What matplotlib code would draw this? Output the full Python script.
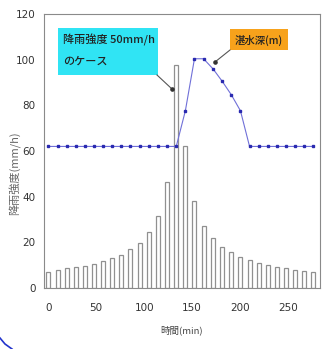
import numpy as np
import matplotlib
matplotlib.use("Agg")
import matplotlib.pyplot as plt
from matplotlib.patches import Rectangle
from matplotlib.lines import Line2D

plt.rcParams['font.family'] = ['Noto Sans CJK JP', 'DejaVu Sans']

# time positions of the bars / points (min)
time_min = [0, 9.6, 19, 28.5, 38, 47.5, 57, 66.5, 76, 85.5,
            95.5, 105, 114.5, 124, 133.5, 143, 152.5, 162, 172, 181.5,
            191, 200.5, 210, 219.5, 229, 238.5, 248, 257.5, 267, 276.5]

# rainfall intensity (mm/h)
rain = [7.1, 7.9, 8.6, 9.1, 9.6, 10.5, 11.8, 13.0, 14.5, 17.0,
        19.9, 24.4, 31.6, 46.6, 97.5, 62.0, 37.9, 27.2, 21.8, 18.1,
        15.6, 13.6, 12.3, 10.8, 9.9, 9.2, 8.6, 8.0, 7.6, 7.1]

# ponding depth (plotted on same scale)
depth = [62, 62, 62, 62, 62, 62, 62, 62, 62, 62,
         62, 62, 62, 62, 62, 77.6, 100.4, 100.4, 95.9, 90.5,
         84.6, 77.6, 62, 62, 62, 62, 62, 62, 62, 62]

x_ticks = [0, 50, 100, 150, 200, 250]
y_ticks = [0, 20, 40, 60, 80, 100, 120]

W, H = 326, 349
fig = plt.figure(figsize=(W / 100, H / 100), dpi=100)
ax = fig.add_axes([44 / W, 1 - 288 / H, 276 / W, 274 / H])

ax.bar(time_min, rain, width=4.2, color='white', edgecolor='#909090', linewidth=0.9, zorder=2)
ax.plot(time_min, depth, color='#7070d8', linewidth=0.8, marker='s', markersize=1.7,
        markerfacecolor='#2a2ab0', markeredgecolor='#2a2ab0', zorder=3)

ax.set_xlim(-4.5, 283.5)
ax.set_ylim(0, 120)
ax.set_xticks(x_ticks)
ax.set_yticks(y_ticks)
tick_font = ['Liberation Sans Narrow', 'DejaVu Sans']
ax.set_xticklabels([str(v) for v in x_ticks], family=tick_font, fontsize=7.5, color='#333333')
ax.set_yticklabels([str(v) for v in y_ticks], family=tick_font, fontsize=7.5, color='#333333')
ax.tick_params(axis='x', length=0, pad=11)
ax.tick_params(axis='y', length=0, pad=6)
for sp in ax.spines.values():
    sp.set_color('#8a8a8a')
    sp.set_linewidth(0.8)

fig.text(15 / W, 1 - 173 / H, '降雨強度(mm/h)', rotation=90, ha='center', va='center',
         fontsize=8, color='#666666')
fig.text(182 / W, 1 - 330 / H, '時間(min)', ha='center', va='center',
         fontsize=6.8, color='#444444')


def px(x, y):
    return x / W, 1 - y / H


# cyan callout
fig.add_artist(Rectangle(px(58, 75), 100 / W, 47 / H, transform=fig.transFigure,
                         facecolor='#30e4f4', edgecolor='none', zorder=5))
fig.text(*px(63, 40), '降雨強度 50mm/h', ha='left', va='center', fontsize=8,
         fontweight='medium', color='#222222', zorder=6)
fig.text(*px(63, 62), 'のケース', ha='left', va='center', fontsize=8,
         fontweight='medium', color='#222222', zorder=6)
fig.add_artist(Line2D([157 / W, 172 / W], [1 - 75 / H, 1 - 89 / H], transform=fig.transFigure,
                      color='#555555', linewidth=0.8, zorder=5))
fig.add_artist(Line2D([172 / W], [1 - 89 / H], transform=fig.transFigure, marker='o',
                      markersize=2.3, color='#333333', zorder=5))

# orange callout
fig.add_artist(Rectangle(px(230, 50), 58 / W, 21 / H, transform=fig.transFigure,
                         facecolor='#f7a21b', edgecolor='none', zorder=5))
fig.text(*px(259, 40), '湛水深(m)', ha='center', va='center', fontsize=7.5,
         fontweight='medium', color='#222222', zorder=6)
fig.add_artist(Line2D([230 / W, 215 / W], [1 - 50 / H, 1 - 62 / H], transform=fig.transFigure,
                      color='#555555', linewidth=0.8, zorder=5))
fig.add_artist(Line2D([215 / W], [1 - 62 / H], transform=fig.transFigure, marker='o',
                      markersize=2.3, color='#333333', zorder=5))

# bit of blue frame at the bottom-left corner
fig.add_artist(Line2D([0 / W, 5 / W, 12 / W], [1 - 338 / H, 1 - 344 / H, 1 - 349 / H],
                      transform=fig.transFigure, color='#2233cc', linewidth=1.2))

fig.savefig('out.png', dpi=100)
